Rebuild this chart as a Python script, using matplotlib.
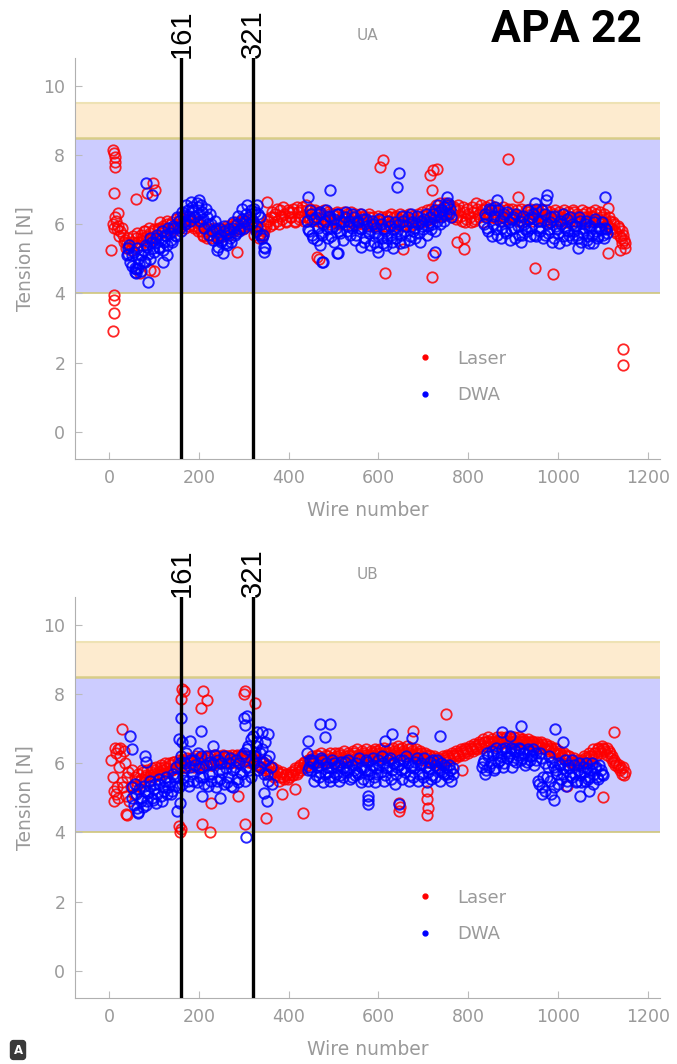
import numpy as np
import matplotlib.pyplot as plt
from matplotlib.lines import Line2D
from matplotlib.transforms import blended_transform_factory

plt.close('all')

nan = np.nan

# ---- UA layer ----
ua_laser_wire = np.arange(5, 1151, 5)
ua_laser_tension = [
    5.25, 5.9, 6.1, 5.95, 5.8, 5.7, 5.55, 5.45, 5.35, 5.5, 5.4, 5.6, 5.5, 5.7, 5.55, 5.8, 5.65, 5.75, 5.6, 5.85,
    5.7, 5.9, 5.75, 5.95, 5.8, 6.0, 5.85, 6.05, 5.9, 6.0, 6.1, 5.95, 6.1, 6.0, 6.15, 6.0, 6.1, 5.95, 6.05, 5.9,
    5.8, 5.65, 5.8, 5.7, 5.85, 5.7, 5.8, 5.65, 5.75, 5.7, 5.85, 5.75, 5.9, 5.8, 5.95, 5.85, 6.0, 5.9, 6.05, 5.95,
    6.1, 6.0, 6.15, 6.05, 5.9, 5.8, 5.75, 5.65, 5.8, 5.95, 6.1, 6.2, 6.0, 6.3, 6.1, 6.4, 6.15, 6.3, 6.05, 6.35,
    6.2, 6.45, 6.1, 6.35, 6.2, 6.5, 6.25, 6.4, 6.15, 6.3, 6.2, 6.35, 6.1, 6.3, 6.15, 6.25, 6.05, 6.3, 6.15, 6.25,
    6.1, 6.3, 6.05, 6.25, 6.15, 6.3, 6.1, 6.2, 6.0, 6.25, 6.1, 6.2, 6.0, 6.15, 6.05, 6.2, 6.0, 6.1, 5.95, 6.1,
    6.0, 6.15, 5.95, 6.1, 6.2, 6.05, 6.2, 6.0, 6.15, 6.05, 6.2, 6.0, 6.1, 5.95, 6.15, 6.0, 6.1, 6.2, 6.05, 6.25,
    6.1, 6.3, 6.15, 6.35, 6.2, 6.4, 6.25, 6.45, 6.3, 6.5, 6.35, 6.55, 6.3, 6.45, 6.2, 6.4, 6.1, 6.35, 6.15, 6.3,
    6.05, 6.35, 6.15, 6.45, 6.2, 6.4, 6.25, 6.5, 6.3, 6.4, 6.2, 6.35, 6.15, 6.3, 6.1, 6.25, 6.4, 6.2, 6.3, 6.15,
    6.3, 6.1, 6.25, 6.05, 6.2, 6.35, 6.15, 6.3, 6.1, 6.25, 6.4, 6.2, 6.3, 6.1, 6.25, 6.05, 6.2, 6.3, 6.1, 6.25,
    6.1, 6.3, 6.15, 6.25, 6.05, 6.2, 6.35, 6.1, 6.25, 6.15, 6.3, 6.05, 6.2, 6.1, 6.25, 6.15, 6.3, 6.1, 6.2, 6.05,
    6.15, 5.95, 6.1, 5.85, 6.0, 5.75, 5.9, 5.6, 5.7, 5.45,
]
ua_laser_wire_b = np.arange(8, 1151, 5)
ua_laser_tension_b = [
    6.0, 6.2, 5.85, 5.65, 5.9, 5.5, 5.3, 5.6, 5.25, 5.65, 5.45, 5.75, 5.4, 5.6, 5.8, 5.5, 5.9, 5.55, 5.8, 5.65,
    5.85, 6.05, 5.8, 5.9, 6.1, 5.85, 6.0, 5.8, 6.15, 5.95, 6.2, 6.05, 5.9, 6.2, 5.95, 6.15, 5.9, 6.05, 5.8, 6.0,
    5.7, 5.9, 5.6, 5.85, 5.6, 5.9, 5.75, 5.6, 5.85, 5.65, 5.8, 5.95, 5.7, 6.0, 5.8, 6.05, 5.9, 6.1, 5.85, 6.1,
    5.95, 6.2, 5.95, 5.7, 5.95, 5.6, 5.85, 5.7, 6.0, 6.15, 5.95, 6.35, 6.2, 6.45, 6.0, 6.25, 6.5, 6.1, 6.4, 6.2,
    6.35, 6.05, 6.5, 6.15, 6.4, 6.1, 6.55, 6.2, 6.45, 6.1, 6.4, 6.15, 6.35, 6.05, 6.4, 6.1, 6.35, 6.0, 6.3, 6.05,
    6.35, 6.0, 6.2, 6.35, 6.0, 6.2, 6.35, 6.05, 6.3, 6.0, 6.3, 6.05, 6.25, 6.0, 6.3, 5.95, 6.2, 6.05, 6.25, 5.95,
    6.2, 5.95, 6.25, 6.0, 6.3, 5.95, 6.25, 6.05, 6.3, 5.95, 6.25, 6.1, 6.3, 6.05, 6.25, 6.1, 6.3, 6.05, 6.35, 6.1,
    6.4, 6.15, 6.45, 6.2, 6.55, 6.3, 6.6, 6.25, 6.6, 6.3, 6.55, 6.2, 6.5, 6.15, 6.55, 6.25, 6.5, 6.05, 6.45, 6.2,
    6.5, 6.1, 6.6, 6.3, 6.55, 6.05, 6.45, 6.35, 6.55, 6.2, 6.5, 6.25, 6.45, 6.2, 6.5, 6.15, 6.45, 6.3, 6.45, 6.25,
    6.4, 6.2, 6.45, 6.25, 6.4, 6.15, 6.45, 6.2, 6.4, 6.15, 6.3, 6.45, 6.2, 6.4, 6.15, 6.35, 6.1, 6.4, 6.2, 6.35,
    6.2, 6.4, 6.05, 6.35, 6.2, 6.4, 6.1, 6.3, 6.15, 6.4, 6.2, 6.35, 6.1, 6.35, 6.2, 6.4, 6.15, 6.35, 6.1, 6.3,
    6.0, 6.2, 5.9, 6.05, 5.8, 5.95, 5.65, 5.8, 5.55,
]
ua_laser_odd_wire = [8, 10, 12, 13, 14, 10, 10, 10, 11, 9, 20, 98, 85, 60, 102, 91, 69, 100, 285, 352,
                     463, 468, 610, 604, 715, 722, 730, 719, 889, 911, 615, 720, 949, 989, 775, 790, 791, 655,
                     722, 1111, 1112, 1142, 1138, 1150, 1145, 1145]
ua_laser_odd_tension = [8.15, 8.05, 7.95, 7.8, 7.65, 6.9, 3.96, 3.8, 3.44, 2.92, 6.33, 7.2, 6.9, 6.74, 7.0, 4.68, 4.6, 4.65, 5.2, 6.65,
                        5.06, 5.0, 7.86, 7.66, 7.43, 7.57, 7.6, 7.0, 7.89, 6.8, 4.6, 4.48, 4.74, 4.57, 5.5, 5.6, 5.29, 5.29,
                        5.12, 5.17, 6.47, 5.46, 5.26, 5.3, 2.4, 1.94]

ua_dwa_wire = np.arange(40, 1111, 5)
ua_dwa_tension = [
    5.1, 5.4, 4.8, 5.2, 4.7, 5.0, 4.65, 5.25, 4.9, 5.35, 5.0, 5.5, 5.2, 5.6, 5.3, 5.55, 5.25, 5.7, 5.4, 5.75,
    5.5, 5.9, 5.65, 6.1, 5.8, 6.25, 6.0, 6.4, 6.1, 6.5, 6.2, 6.6, 6.3, 6.55, 6.15, 6.45, 6.0, 6.3, 5.8, 6.1,
    5.6, 5.9, 5.5, 5.8, 5.45, 5.75, 5.6, 5.9, 5.7, 6.0, 5.8, 6.15, 5.9, 6.3, 6.0, 6.4, 6.1, 6.35, 5.95, 6.2,
    5.6, 5.35] + [nan] * 18 + [
    6.1, 5.8, 6.3, 5.6, 6.2, 5.9, 6.35, 5.7, 6.1, 5.85, 6.25, 5.65, 6.15, 5.9, 6.3, 5.75, 6.05, 6.2, 5.8, 6.1,
    5.9, 6.2, 5.7, 6.05, 5.85, 6.15, 5.6, 5.95, 5.75, 6.1, 5.5, 5.9, 5.65, 6.0, 5.45, 5.8, 5.6, 5.95, 5.5, 5.85,
    5.6, 6.0, 5.7, 6.1, 5.8, 6.2, 5.65, 6.05, 5.9, 6.25, 5.75, 6.1, 5.85, 6.3, 5.95, 6.2, 6.0, 6.4, 6.1, 6.35,
    6.2, 6.5, 6.3, 6.6, 6.45] + [nan] * 14 + [6.0,
    6.2, 5.8, 6.4, 6.0, 6.5, 5.7, 6.1, 5.9, 6.3, 5.75, 6.05, 5.85, 6.2, 5.6, 5.95, 6.1, 5.7, 6.0, 5.8, 6.15,
    5.9, 6.3, 5.65, 6.1, 5.8, 6.4, 5.7, 6.0, 5.85, 6.2, 5.6, 5.95, 5.75, 6.1, 5.65, 5.9, 6.15, 5.7, 6.0, 5.8,
    5.95, 5.6, 6.1, 5.75, 6.0, 5.55, 5.9, 5.7, 6.05, 5.8, 5.65, 5.85, 5.7, 5.9, 5.75,
]
ua_dwa_wire_b = np.arange(42, 1111, 5)
ua_dwa_tension_b = [
    5.3, 4.9, 5.1, 4.75, 5.3, 4.85, 5.1, 4.95, 5.4, 5.15, 5.6, 5.3, 5.45, 5.7, 5.35, 5.8, 5.5, 5.65, 5.9, 5.55,
    5.95, 5.7, 6.2, 5.9, 6.35, 6.05, 6.55, 6.25, 6.65, 6.4, 6.2, 6.5, 6.1, 6.35, 5.9, 6.2, 5.7, 6.0, 5.55, 5.85,
    5.35, 5.7, 5.55, 5.95, 5.4, 5.85, 5.5, 6.05, 5.75, 6.25, 5.85, 6.45, 6.1, 6.55, 6.2, 6.0, 6.45, 5.8, 6.3, 5.7,
    5.7, 5.3] + [nan] * 18 + [
    5.85, 6.4, 5.7, 6.15, 5.55, 6.3, 5.75, 6.0, 6.4, 5.6, 6.2, 5.9, 5.5, 6.3, 5.8, 6.1, 5.55, 6.35, 5.95, 5.7,
    6.3, 5.55, 6.1, 5.9, 6.3, 5.5, 6.15, 5.8, 5.4, 6.0, 5.75, 5.35, 6.15, 5.6, 5.85, 5.4, 6.1, 5.7, 5.3, 6.05,
    5.8, 5.45, 6.25, 5.5, 5.95, 5.55, 6.3, 5.8, 5.6, 6.0, 5.5, 5.95, 6.15, 5.7, 6.05, 5.85, 6.3, 5.8, 6.55, 6.0,
    6.4, 6.1, 6.55, 6.3, 6.2] + [nan] * 14 + [6.3,
    5.9, 6.45, 5.65, 6.25, 5.85, 6.4, 5.6, 6.2, 5.8, 6.35, 5.55, 6.15, 5.9, 6.3, 5.7, 5.5, 6.25, 5.85, 6.4, 5.65,
    6.2, 5.7, 6.45, 5.9, 6.1, 5.6, 6.3, 5.75, 6.05, 5.5, 6.25, 5.85, 5.45, 6.0, 6.3, 5.55, 5.8, 6.2, 5.6, 5.95,
    5.7, 6.2, 5.5, 5.9, 6.1, 5.65, 5.95, 5.45, 6.15, 5.6, 5.9, 6.05, 5.6, 5.85,
]
ua_dwa_odd_wire = [83, 96, 87, 120, 60, 65, 43, 58, 130, 240, 254, 474, 508, 492, 510, 477, 470, 646, 641,
                   726, 752, 864, 975, 973, 949, 1105, 1045, 1070, 443, 200, 330, 345, 560, 600]
ua_dwa_odd_tension = [7.2, 6.85, 4.33, 4.9, 4.6, 4.75, 5.14, 4.62, 5.1, 5.25, 5.17, 4.9, 5.17, 7.0, 5.17, 4.92, 5.4, 7.48, 7.08,
                      5.2, 6.8, 6.7, 6.85, 6.7, 6.6, 6.8, 5.3, 5.45, 6.8, 6.7, 6.55, 5.2, 5.35, 5.2]

# ---- UB layer ----
ub_laser_wire = np.arange(5, 1151, 5)
ub_laser_tension = [
    6.1, 5.2, 6.3, 5.0, 6.2, 5.3, 6.0, 5.6, 4.9, 5.8, 5.1, 5.5, 5.7, 5.55, 5.75, 5.6, 5.8, 5.65, 5.85, 5.7,
    5.9, 5.75, 5.95, 5.8, 6.0, 5.85, 5.95, 5.8, 6.05, 5.9, 6.1, 5.95, 6.05, 5.9, 6.1, 6.0, 6.15, 5.95, 6.1, 6.0,
    6.15, 5.95, 6.1, 6.0, 6.2, 5.95, 6.1, 6.05, 6.2, 6.0, 6.15, 6.05, 6.2, 6.0, 6.15, 6.1, 6.25, 6.05, 6.15, 6.1,
    6.2, 6.05, 6.15, 6.0, 6.1, 5.95, 6.05, 5.9, 6.0, 5.85, 5.95, 5.75, 5.85, 5.65, 5.8, 5.6, 5.75, 5.55, 5.7, 5.6,
    5.75, 5.65, 5.85, 5.75, 5.95, 5.85, 6.05, 5.95, 6.1, 6.0, 6.15, 6.05, 6.2, 6.05, 6.15, 6.0, 6.2, 6.05, 6.15, 6.0,
    6.2, 6.05, 6.25, 6.1, 6.2, 6.05, 6.25, 6.1, 6.3, 6.15, 6.25, 6.1, 6.3, 6.15, 6.25, 6.1, 6.3, 6.2, 6.35, 6.2,
    6.3, 6.15, 6.35, 6.2, 6.3, 6.15, 6.35, 6.2, 6.4, 6.25, 6.35, 6.2, 6.4, 6.25, 6.35, 6.2, 6.3, 6.15, 6.3, 6.1,
    6.25, 6.05, 6.2, 6.0, 6.15, 5.95, 6.1, 6.0, 6.15, 6.05, 6.2, 6.1, 6.25, 6.15, 6.3, 6.2, 6.35, 6.25, 6.4, 6.3,
    6.45, 6.35, 6.5, 6.4, 6.55, 6.45, 6.6, 6.5, 6.65, 6.55, 6.6, 6.5, 6.65, 6.55, 6.7, 6.6, 6.65, 6.55, 6.7, 6.6,
    6.65, 6.55, 6.7, 6.6, 6.65, 6.55, 6.6, 6.5, 6.6, 6.5, 6.55, 6.45, 6.55, 6.4, 6.5, 6.35, 6.45, 6.3, 6.4, 6.25,
    6.3, 6.15, 6.25, 6.1, 6.2, 6.05, 6.15, 6.0, 6.1, 5.95, 6.05, 6.15, 6.0, 6.2, 6.1, 6.3, 6.2, 6.4, 6.3, 6.45,
    6.35, 6.45, 6.3, 6.2, 6.1, 6.0, 5.95, 5.85, 5.9, 5.75,
]
ub_laser_wire_b = np.arange(8, 1151, 5)
ub_laser_tension_b = [
    5.6, 6.45, 5.3, 5.9, 5.45, 6.35, 5.05, 5.75, 5.3, 5.35, 5.6, 5.35, 5.5, 5.8, 5.45, 5.65, 5.5, 5.75, 5.6, 5.8,
    5.65, 5.85, 5.7, 5.9, 5.75, 6.0, 5.8, 6.05, 5.85, 6.0, 5.85, 6.1, 5.9, 6.15, 5.95, 6.05, 5.9, 6.2, 5.95, 6.15,
    6.0, 6.2, 6.0, 6.15, 5.95, 6.25, 6.05, 6.15, 6.0, 6.25, 6.05, 6.2, 6.1, 6.25, 6.05, 6.2, 6.0, 6.25, 6.1, 6.2,
    6.1, 6.2, 6.0, 6.15, 5.95, 6.1, 5.85, 6.05, 5.8, 5.95, 5.7, 5.9, 5.6, 5.75, 5.5, 5.7, 5.6, 5.65, 5.55, 5.7,
    5.65, 5.8, 5.7, 5.9, 5.8, 6.0, 5.9, 6.1, 6.05, 6.2, 6.1, 6.25, 6.1, 6.3, 6.1, 6.25, 6.1, 6.3, 6.15, 6.3,
    6.15, 6.3, 6.15, 6.35, 6.15, 6.3, 6.2, 6.35, 6.2, 6.4, 6.2, 6.35, 6.25, 6.4, 6.2, 6.35, 6.25, 6.4, 6.3, 6.4,
    6.25, 6.45, 6.3, 6.4, 6.25, 6.45, 6.3, 6.5, 6.3, 6.45, 6.3, 6.5, 6.3, 6.45, 6.25, 6.4, 6.25, 6.35, 6.2, 6.3,
    6.15, 6.25, 6.1, 6.2, 6.05, 6.15, 6.05, 6.2, 6.1, 6.25, 6.15, 6.3, 6.2, 6.35, 6.25, 6.4, 6.3, 6.45, 6.35, 6.5,
    6.4, 6.55, 6.45, 6.6, 6.5, 6.7, 6.6, 6.75, 6.6, 6.7, 6.6, 6.75, 6.6, 6.75, 6.65, 6.75, 6.6, 6.75, 6.65, 6.75,
    6.6, 6.75, 6.65, 6.7, 6.6, 6.7, 6.55, 6.65, 6.55, 6.6, 6.5, 6.6, 6.45, 6.55, 6.4, 6.5, 6.35, 6.45, 6.3, 6.35,
    6.2, 6.3, 6.1, 6.2, 6.0, 6.1, 5.95, 6.05, 6.0, 6.1, 6.2, 6.1, 6.3, 6.2, 6.4, 6.3, 6.45, 6.35, 6.5, 6.4,
    6.25, 6.35, 6.15, 6.05, 5.95, 5.9, 5.8, 5.7, 5.65,
]
ub_laser_odd_wire = [29, 38, 40, 10, 15, 20, 25, 163, 166, 160, 210, 218, 205, 303, 300, 325, 155, 158, 160, 207,
                     225, 303, 227, 287, 350, 386, 414, 432, 646, 645, 648, 708, 710, 709, 707, 677, 750, 786,
                     1125, 1100, 1020]
ub_laser_odd_tension = [7.0, 4.54, 4.5, 4.9, 5.1, 6.4, 6.45, 8.15, 8.1, 7.85, 8.1, 7.83, 7.6, 8.1, 8.0, 7.75, 4.2, 4.0, 4.1, 4.25,
                        4.0, 4.25, 4.86, 5.06, 4.42, 5.1, 5.25, 4.55, 4.86, 4.62, 4.75, 4.97, 4.7, 4.5, 5.2, 6.94, 7.43, 5.8,
                        6.9, 5.03, 5.35]

ub_dwa_wire = np.arange(50, 1101, 5)
ub_dwa_tension = [
    5.3, 4.8, 5.1, 4.6, 5.0, 4.75, 5.2, 4.9, 5.35, 5.0, 5.25, 4.85, 5.4, 5.05, 5.3, 5.5, 5.1, 5.45, 5.2, 5.6,
    5.9, 5.3, 6.2, 5.6, 6.0, 5.5, 5.9, 5.7, 6.1, 5.45, 5.85, 6.2, 5.6, 5.95, 5.35, 6.05, 5.7, 6.25, 5.5, 5.8,
    6.0, 5.4, 5.85, 5.6, 6.15, 5.3, 5.9, 5.55, 6.0, 5.7, 6.3, 5.9, 6.5, 5.6, 6.8, 6.2, 6.6, 5.9, 6.4, 5.7,
    6.1, 5.5, 5.9] + [nan] * 15 + [6.3, 5.9,
    5.8, 6.0, 5.65, 5.95, 5.75, 6.1, 5.7, 5.9, 5.6, 5.85, 6.0, 5.7, 5.95, 5.65, 5.85, 6.05, 5.75, 5.9, 5.6, 5.8,
    6.0, 5.7, 5.9, 5.55, 5.8, 6.05, 5.7, 5.95, 5.6, 5.85, 6.1, 5.75, 6.0, 5.65, 5.9, 6.15, 5.8, 6.0, 5.7, 5.95,
    5.8, 6.1, 5.75, 6.0, 5.65, 5.95, 5.85, 6.15, 5.7, 6.0, 5.6, 5.9, 5.75, 6.05, 5.65, 5.95, 6.1, 5.8, 6.0, 5.7,
    5.9, 5.6, 5.8, 5.7] + [nan] * 12 + [5.9, 6.1, 5.8, 6.2,
    6.0, 6.25, 5.85, 6.3, 6.1, 6.4, 6.0, 6.35, 6.2, 6.45, 6.1, 6.35, 6.25, 6.4, 6.15, 6.3, 6.05, 6.35, 6.2, 6.4,
    6.1, 5.5, 6.3, 5.3, 6.0, 5.6, 6.2, 5.1, 5.9, 5.8, 5.4, 5.95, 5.7, 6.1, 5.5, 5.85, 5.6, 5.95, 5.45, 5.8,
    5.65, 5.9, 5.5, 5.85, 5.6, 6.0, 5.7, 5.9, 5.55, 5.8, 5.65,
]
ub_dwa_wire_b = np.arange(52, 1101, 5)
ub_dwa_tension_b = [
    5.0, 5.4, 4.7, 5.25, 4.9, 5.35, 4.8, 5.15, 5.5, 4.95, 5.4, 5.1, 5.55, 4.9, 5.2, 5.6, 5.3, 5.1, 5.7, 5.35,
    5.6, 6.0, 5.4, 5.8, 6.3, 5.35, 6.1, 5.5, 5.95, 6.3, 5.6, 5.9, 5.4, 6.2, 5.7, 5.5, 6.0, 5.3, 6.1, 5.55,
    5.75, 6.2, 5.45, 6.0, 5.35, 5.8, 6.1, 5.45, 5.75, 6.2, 5.5, 6.4, 5.8, 6.7, 6.0, 6.5, 5.8, 6.3, 6.05, 6.6,
    5.7, 6.2, 5.4] + [nan] * 15 + [5.8, 6.1,
    6.1, 5.5, 5.9, 5.6, 6.15, 5.45, 6.0, 5.75, 5.5, 6.1, 5.6, 5.9, 5.5, 6.05, 5.6, 5.8, 6.1, 5.55, 5.95, 5.65,
    5.75, 6.15, 5.45, 5.9, 6.1, 5.5, 5.8, 6.15, 5.45, 5.7, 5.95, 6.2, 5.5, 5.85, 6.1, 5.55, 6.0, 5.4, 5.9, 6.1,
    5.55, 5.85, 6.2, 5.5, 5.9, 5.6, 6.05, 5.5, 5.95, 5.7, 6.15, 5.45, 5.85, 5.55, 6.1, 5.6, 5.85, 5.5, 5.75, 5.95,
    5.7, 5.95, 5.5, 5.85] + [nan] * 12 + [6.0, 5.7, 6.3, 5.9,
    6.35, 5.8, 6.45, 6.05, 6.2, 5.9, 6.45, 6.15, 6.3, 5.9, 6.4, 6.05, 6.45, 6.1, 6.3, 5.95, 6.4, 6.1, 6.25, 5.95,
    6.3, 5.4, 6.15, 5.6, 5.2, 5.9, 5.5, 6.05, 5.3, 5.7, 6.0, 5.55, 5.85, 5.35, 5.95, 5.65, 6.1, 5.7, 5.5, 6.0,
    5.45, 5.75, 6.0, 5.55, 5.8, 5.4, 5.85, 5.6, 5.95, 5.7,
]
ub_dwa_odd_wire = [47, 51, 80, 83, 65, 160, 155, 152, 157, 162, 205, 180, 232, 207, 247, 307, 303, 300, 340, 354,
                   305, 351, 345, 325, 330, 470, 492, 480, 443, 577, 577, 577, 630, 615, 675, 737, 646, 918,
                   875, 893, 993, 990, 964, 1050, 1068, 1010]
ub_dwa_odd_tension = [6.8, 6.4, 6.2, 6.05, 4.55, 7.3, 6.7, 4.63, 4.85, 6.6, 6.94, 6.65, 6.5, 5.05, 5.0, 7.37, 7.1, 7.3, 6.9, 6.85,
                      3.87, 4.9, 5.15, 6.3, 6.9, 7.13, 7.13, 6.75, 6.65, 5.05, 4.95, 4.83, 6.85, 6.65, 6.74, 6.8, 4.82, 7.08,
                      6.9, 6.8, 7.0, 4.95, 5.1, 5.05, 5.2, 6.6]

# reference lines and bands
marker_wires = [161, 321]
spec_band = (4.0, 8.5)
warn_band = (8.5, 9.5)

grey = '#9a9a9a'
plt.rcParams['font.family'] = 'DejaVu Sans'

fig = plt.figure(figsize=(6.77, 10.64), dpi=100)
ax_top = fig.add_axes([0.1108, 0.5686, 0.864, 0.3769])
ax_bot = fig.add_axes([0.1108, 0.0620, 0.864, 0.3769])


def join(*parts):
    return np.concatenate([np.asarray(p, dtype=float) for p in parts])


def draw_panel(ax, title, laser_x, laser_y, dwa_x, dwa_y):
    ax.axhspan(*spec_band, color='#ccccff', lw=0, zorder=0)
    ax.axhspan(*warn_band, color='#fdebcf', lw=0, zorder=0)
    ax.axhline(spec_band[0], color='#cfc67a', lw=1.2, zorder=1)
    ax.axhline(spec_band[1], color='#d8cd88', lw=1.8, zorder=1)
    ax.axhline(warn_band[1], color='#eee2b4', lw=1.5, zorder=1)

    ax.plot(laser_x, laser_y, 'o', mfc='none', mec='#ff0000', ms=7.5, mew=1.3, alpha=0.85, zorder=2)
    ax.plot(dwa_x, dwa_y, 'o', mfc='none', mec='#0000ff', ms=7.5, mew=1.4, alpha=0.85, zorder=3)

    trans = blended_transform_factory(ax.transData, ax.transAxes)
    for w in marker_wires:
        ax.axvline(w, color='black', lw=2.4, zorder=4)
        ax.text(w, 1.0, str(w), transform=trans, rotation=90, ha='center', va='bottom',
                fontsize=21, family='Liberation Sans', color='black')

    ax.set_xlim(-76, 1227)
    ax.set_ylim(-0.78, 10.8)
    ax.set_xticks(range(0, 1201, 200))
    ax.set_yticks(range(0, 11, 2))
    ax.tick_params(direction='in', length=5, color='#bbbbbb', labelcolor=grey, labelsize=12.5, pad=7)
    for s in ['top', 'right']:
        ax.spines[s].set_visible(False)
    for s in ['left', 'bottom']:
        ax.spines[s].set_color('#b0b0b0')
    ax.set_xlabel('Wire number', color=grey, fontsize=13.5, labelpad=10)
    ax.set_ylabel('Tension [N]', color=grey, fontsize=13.5, labelpad=6)
    ax.set_title(title, color=grey, fontsize=11, pad=13)

    handles = [Line2D([], [], ls='none', marker='o', ms=3.5, color='#ff0000'),
               Line2D([], [], ls='none', marker='o', ms=3.5, color='#0000ff')]
    leg = ax.legend(handles, ['Laser', 'DWA'], loc='center left', bbox_to_anchor=(0.555, 0.205),
                    frameon=False, handlelength=1.0, handletextpad=1.3, labelspacing=1.0, fontsize=13)
    for t in leg.get_texts():
        t.set_color(grey)


draw_panel(ax_top, 'UA',
           join(ua_laser_wire, ua_laser_wire_b, ua_laser_odd_wire),
           join(ua_laser_tension, ua_laser_tension_b, ua_laser_odd_tension),
           join(ua_dwa_wire, ua_dwa_wire_b, ua_dwa_odd_wire),
           join(ua_dwa_tension, ua_dwa_tension_b, ua_dwa_odd_tension))
draw_panel(ax_bot, 'UB',
           join(ub_laser_wire, ub_laser_wire_b, ub_laser_odd_wire),
           join(ub_laser_tension, ub_laser_tension_b, ub_laser_odd_tension),
           join(ub_dwa_wire, ub_dwa_wire_b, ub_dwa_odd_wire),
           join(ub_dwa_tension, ub_dwa_tension_b, ub_dwa_odd_tension))

fig.text(566 / 677, 1 - 30 / 1064, 'APA 22', ha='center', va='center',
         fontsize=32, fontweight='bold', family='Roboto', color='black')
fig.text(18 / 677, 1 - 1050 / 1064, 'A', ha='center', va='center', fontsize=8.5, fontweight='bold',
         color='white', bbox=dict(boxstyle='round,pad=0.25', fc='#3a3a3a', ec='#3a3a3a'))

fig.savefig('out.png', dpi=100)
